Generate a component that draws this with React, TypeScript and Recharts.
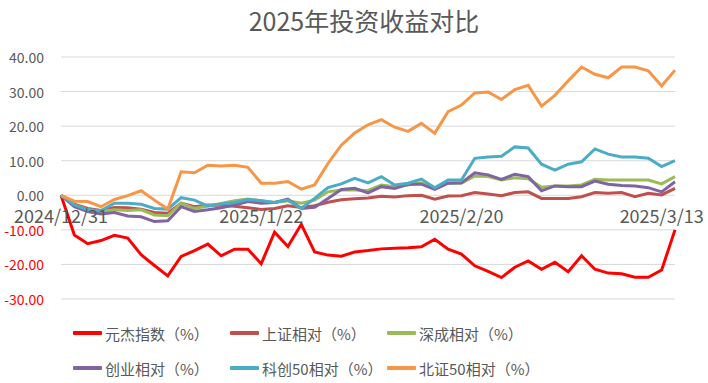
import { CartesianGrid, Line, LineChart, XAxis, YAxis } from "recharts";

const dates = [
  "2024/12/31", "2025/1/2", "2025/1/3", "2025/1/6", "2025/1/7", "2025/1/8", "2025/1/9", "2025/1/10",
  "2025/1/13", "2025/1/14", "2025/1/15", "2025/1/16", "2025/1/17", "2025/1/20", "2025/1/21", "2025/1/22",
  "2025/1/23", "2025/1/24", "2025/1/27", "2025/2/5", "2025/2/6", "2025/2/7", "2025/2/10", "2025/2/11",
  "2025/2/12", "2025/2/13", "2025/2/14", "2025/2/17", "2025/2/18", "2025/2/19", "2025/2/20", "2025/2/21",
  "2025/2/24", "2025/2/25", "2025/2/26", "2025/2/27", "2025/2/28", "2025/3/3", "2025/3/4", "2025/3/5",
  "2025/3/6", "2025/3/7", "2025/3/10", "2025/3/11", "2025/3/12", "2025/3/13", "2025/3/14",
];

const yuanjie = [
  0, -11.5, -14.0, -13.1, -11.6, -12.4, -17.2, -20.3, -23.3, -17.7, -16.0, -14.1, -17.5, -15.6, -15.6, -19.8,
  -10.7, -14.8, -8.4, -16.4, -17.3, -17.6, -16.4, -16.0, -15.5, -15.3, -15.2, -14.9, -12.7, -15.6, -17.0, -20.4,
  -22.0, -23.8, -20.8, -19.0, -21.4, -19.4, -22.1, -17.5, -21.4, -22.5, -22.7, -23.7, -23.7, -21.6, -10.0,
];
const shanghai = [
  0, -2.6, -3.8, -4.4, -3.5, -3.6, -4.0, -5.0, -5.2, -2.3, -3.3, -2.8, -2.9, -3.2, -3.6, -4.1,
  -3.8, -3.0, -3.5, -3.0, -2.0, -1.3, -1.0, -0.8, -0.3, -0.5, -0.1, 0.0, -1.1, -0.2, -0.1, 0.8,
  0.4, -0.1, 0.8, 1.0, -0.9, -0.9, -0.9, -0.4, 0.8, 0.6, 0.8, -0.4, 0.6, 0.1, 2.0,
];
const shenzhen = [
  0, -2.8, -4.2, -4.7, -4.2, -4.4, -4.2, -5.7, -5.9, -2.3, -3.8, -3.1, -2.4, -1.6, -1.1, -1.6,
  -2.1, -1.6, -2.3, -1.4, 1.0, 1.5, 1.5, 1.4, 3.0, 2.5, 3.0, 3.6, 2.0, 3.5, 3.5, 5.6,
  5.4, 4.4, 5.1, 4.8, 2.3, 2.7, 2.7, 3.0, 4.6, 4.4, 4.4, 4.4, 4.4, 3.3, 5.4,
];
const chinext = [
  0, -3.3, -4.7, -5.4, -5.0, -6.0, -6.2, -7.6, -7.4, -3.3, -4.7, -4.2, -3.6, -2.8, -1.8, -2.3,
  -2.1, -1.1, -3.8, -3.5, -0.9, 1.7, 2.0, 0.7, 2.5, 2.0, 3.2, 3.2, 1.7, 3.5, 3.6, 6.5,
  5.9, 4.6, 6.1, 5.4, 1.3, 2.7, 2.5, 2.5, 4.1, 3.2, 2.8, 2.7, 2.2, 1.0, 3.9,
];
const star50 = [
  0, -2.8, -4.2, -4.4, -2.3, -2.3, -2.6, -3.8, -4.0, -0.7, -1.4, -3.1, -2.5, -2.1, -1.2, -1.6,
  -2.1, -1.4, -3.8, -0.9, 2.2, 3.3, 4.9, 3.6, 5.4, 3.0, 3.5, 4.7, 2.2, 4.4, 4.4, 10.7,
  11.1, 11.3, 14.0, 13.7, 9.0, 7.3, 9.0, 9.7, 13.4, 11.9, 11.1, 11.1, 10.7, 8.3, 10.0,
];
const bse50 = [
  0, -1.7, -1.8, -3.3, -1.2, -0.1, 1.3, -1.4, -4.0, 6.8, 6.5, 8.7, 8.5, 8.7, 8.1, 3.5,
  3.5, 4.0, 1.8, 3.0, 9.2, 14.5, 18.0, 20.4, 21.9, 19.7, 18.5, 20.8, 17.9, 24.2, 26.1, 29.6,
  29.9, 27.7, 30.6, 31.8, 25.8, 28.9, 33.1, 37.1, 35.0, 34.0, 37.1, 37.1, 36.0, 31.6, 36.2,
];

const yTicks = [-30, -20, -10, 0, 10, 20, 30, 40];

const series = [
  { key: "yuanjie", name: "元杰指数（%）", color: "#FF0000", values: yuanjie },
  { key: "shanghai", name: "上证相对（%）", color: "#C0504D", values: shanghai },
  { key: "shenzhen", name: "深成相对（%）", color: "#9BBB59", values: shenzhen },
  { key: "chinext", name: "创业相对（%）", color: "#8064A2", values: chinext },
  { key: "star50", name: "科创50相对（%）", color: "#4BACC6", values: star50 },
  { key: "bse50", name: "北证50相对（%）", color: "#F79646", values: bse50 },
];

const data = dates.map((d, i) => {
  const row: Record<string, string | number> = { date: d };
  series.forEach(s => { row[s.key] = s.values[i]; });
  return row;
});

const W = 708;
const H = 383;
const TOP = 57;
const BOTTOM = 64;
const X_AXIS_H = 20;
const Y_MIN = -30;
const Y_MAX = 40;
const PLOT_H = H - TOP - BOTTOM - X_AXIS_H;
const ZERO_Y = TOP + (PLOT_H * Y_MAX) / (Y_MAX - Y_MIN);
const FONT = "'Noto Sans CJK SC', 'Noto Sans', sans-serif";

const YTick = (props: any) => {
  const { y, payload } = props;
  const v = payload.value as number;
  return (
    <text x={44} y={y} textAnchor="end" dominantBaseline="central" fontSize={14} fontFamily={FONT}
      fill={v < 0 ? "#FF0000" : "#595959"}>
      {v.toFixed(2)}
    </text>
  );
};

const XTick = (props: any) => {
  const { x, payload } = props;
  return (
    <text x={x} y={ZERO_Y + 20} textAnchor="middle" dominantBaseline="central" fontSize={18} fontFamily={FONT}
      fill="#595959">
      {payload.value}
    </text>
  );
};

export default function App() {
  return (
    <div style={{ position: "absolute", left: 0, top: 0, width: W, height: H, background: "#fff", fontFamily: FONT }}>
      <div style={{ position: "absolute", left: 0, width: 728, top: 4, textAlign: "center", fontSize: 25, color: "#595959", lineHeight: "32px" }}>
        2025年投资收益对比
      </div>
      <LineChart width={W} height={H} data={data} margin={{ top: TOP, right: 33, left: 0, bottom: BOTTOM }}>
        <CartesianGrid vertical={false} stroke="#D9D9D9" />
        <XAxis dataKey="date" height={X_AXIS_H} interval={14} axisLine={false} tickLine={false} tick={<XTick />} />
        <YAxis domain={[Y_MIN, Y_MAX]} ticks={yTicks} width={61} axisLine={false} tickLine={false} tick={<YTick />} />
        {series.map(s => (
          <Line key={s.key} dataKey={s.key} name={s.name} stroke={s.color} strokeWidth={3} dot={false}
            type="linear" isAnimationActive={false} />
        ))}
      </LineChart>
      <div style={{ position: "absolute", left: 73, top: 318, display: "grid", gridTemplateColumns: "157px 157px 157px", rowGap: 5 }}>
        {series.map(s => (
          <div key={s.key} style={{ display: "flex", alignItems: "center", height: 30, fontSize: 15, color: "#595959" }}>
            <span style={{ display: "inline-block", width: 29, height: 4, background: s.color, marginRight: 3, borderRadius: 1 }} />
            <span>{s.name}</span>
          </div>
        ))}
      </div>
    </div>
  );
}
